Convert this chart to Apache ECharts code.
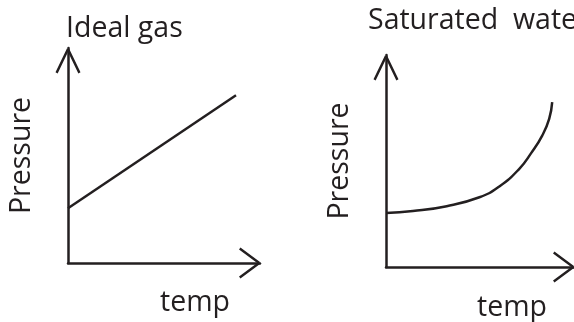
<!DOCTYPE html>
<html>
<head>
<meta charset="utf-8">
<script src="https://cdn.jsdelivr.net/npm/echarts@6/dist/echarts.min.js"></script>
<style>
  html, body { margin: 0; padding: 0; background: #ffffff; }
  #chart { width: 574px; height: 322px; }
</style>
</head>
<body>
<div id="chart"></div>
<script>
// Panel titles and axis names
const panelTitles = ['Ideal gas', 'Saturated  water'];
const tempLabel = 'temp';
const pressureLabel = 'Pressure';

// Ideal gas: pressure rises linearly with temperature (axis units 0-100)
const idealTemp = [0, 87.5];
const idealPressure = [25.5, 78];

// Saturated water: vapour pressure curve climbing steeply at high temperature
const satTemp = [0, 14.3, 32.3, 49.7, 60.3, 70.9, 77.2, 83.1, 86.8, 88.4];
const satPressure = [25.5, 26.4, 28.7, 32.9, 38.0, 46.3, 53.7, 62.0, 69.9, 77.8];

const INK = '#231f20';
const FONT = 'Open Sans';
const TEXT_SIZE = 28.5;

// Open chevron arrowhead (pointing up) as a filled path of two strokes
function chevron(w, h, t) {
  function seg(ax, ay, bx, by) {
    const dx = bx - ax, dy = by - ay;
    const len = Math.sqrt(dx * dx + dy * dy);
    const nx = -dy / len * t / 2, ny = dx / len * t / 2;
    return 'M' + (ax + nx) + ',' + (ay + ny) +
           'L' + (bx + nx) + ',' + (by + ny) +
           'L' + (bx - nx) + ',' + (by - ny) +
           'L' + (ax - nx) + ',' + (ay - ny) + 'Z';
  }
  return 'path://' + seg(0, h, w / 2, 0) + seg(w / 2, 0, w, h);
}

function pairs(xs, ys) {
  return xs.map(function (x, i) { return [x, ys[i]]; });
}

function xAxisFor(gridIndex, gap, padTop) {
  return {
    type: 'value', gridIndex: gridIndex, min: 0, max: 100,
    axisLine: {
      show: true,
      lineStyle: { color: INK, width: 2.5 },
      symbol: ['none', chevron(31, 21, 2.6)],
      symbolSize: [31, 21],
      symbolOffset: [0, -10.5]
    },
    axisTick: { show: false }, axisLabel: { show: false }, splitLine: { show: false },
    name: tempLabel,
    nameLocation: 'end',
    nameGap: gap,
    nameTextStyle: {
      fontFamily: FONT, fontSize: TEXT_SIZE, color: INK,
      align: 'right', verticalAlign: 'top', padding: [padTop, 0, 0, 0]
    }
  };
}

function yAxisFor(gridIndex, gap) {
  return {
    type: 'value', gridIndex: gridIndex, min: 0, max: 100,
    axisLine: {
      show: true,
      lineStyle: { color: INK, width: 2.5 },
      symbol: ['none', chevron(25, 26, 2.6)],
      symbolSize: [25, 26],
      symbolOffset: [0, -13]
    },
    axisTick: { show: false }, axisLabel: { show: false }, splitLine: { show: false },
    name: pressureLabel,
    nameLocation: 'middle',
    nameGap: gap,
    nameTextStyle: { fontFamily: FONT, fontSize: TEXT_SIZE, color: INK }
  };
}

const chart = echarts.init(document.getElementById('chart'), null, { renderer: 'canvas' });

chart.setOption({
  backgroundColor: '#ffffff',
  animation: false,
  title: [
    { text: panelTitles[0], left: 66, top: 14, padding: 0,
      textStyle: { fontFamily: FONT, fontSize: TEXT_SIZE, fontWeight: 'normal', color: INK } },
    { text: panelTitles[1], left: 368, top: 6, padding: 0,
      textStyle: { fontFamily: FONT, fontSize: TEXT_SIZE, fontWeight: 'normal', color: INK } }
  ],
  grid: [
    { left: 68, top: 48, width: 192, height: 215 },
    { left: 386, top: 55, width: 189, height: 216 }
  ],
  xAxis: [xAxisFor(0, -30, 25), xAxisFor(1, -27, 26)],
  yAxis: [yAxisFor(0, 32), yAxisFor(1, 32)],
  series: [
    {
      type: 'line', xAxisIndex: 0, yAxisIndex: 0,
      data: pairs(idealTemp, idealPressure),
      showSymbol: false,
      lineStyle: { color: INK, width: 2.5 }
    },
    {
      type: 'line', xAxisIndex: 1, yAxisIndex: 1,
      data: pairs(satTemp, satPressure),
      smooth: 0.5,
      showSymbol: false,
      lineStyle: { color: INK, width: 2.5 }
    }
  ]
});
</script>
</body>
</html>
